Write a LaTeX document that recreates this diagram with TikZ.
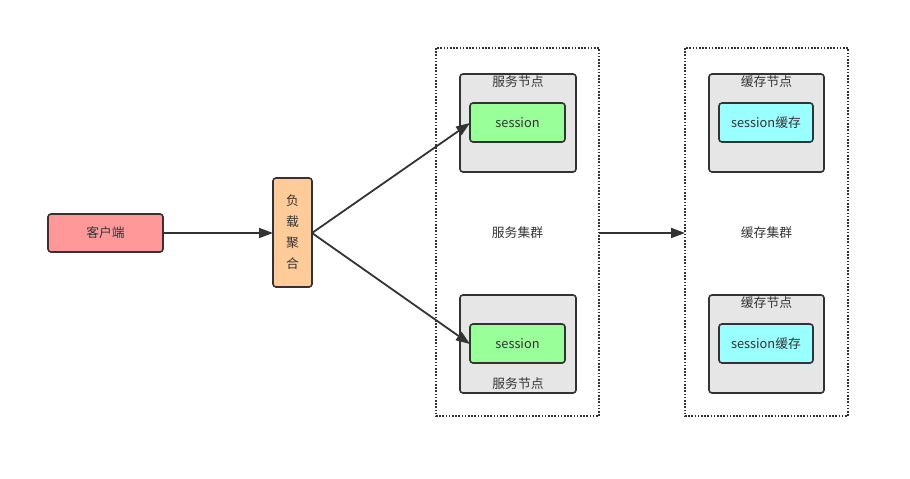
\documentclass[tikz,border=0pt]{standalone}
\usepackage{fontspec}
\setmainfont{Noto Sans CJK SC}
\usetikzlibrary{arrows.meta}
\definecolor{ln}{HTML}{333333}
\definecolor{clientc}{HTML}{FF9999}
\definecolor{lbc}{HTML}{FFCC99}
\definecolor{nodec}{HTML}{E6E6E6}
\definecolor{sessc}{HTML}{99FF99}
\definecolor{cachec}{HTML}{99FFFF}
\begin{document}
\begin{tikzpicture}[x=1pt,y=-1pt,
  box/.style={draw=ln,line width=1.6pt,rounded corners=3pt},
  cluster/.style={draw=ln,line width=1.6pt,dash pattern=on 1.6pt off 1.6pt},
  conn/.style={draw=ln,line width=1.8pt,-{Triangle[length=14pt,width=10pt]}},
  lbl/.style={font=\fontsize{12.8}{15}\selectfont,text=ln,inner sep=0pt}]
\useasboundingbox (0,0) rectangle (910,479);
% clusters
\draw[cluster] (436,48) rectangle (599,416);
\draw[cluster] (685,48) rectangle (848,416);
\node[lbl] (svc) at (517.5,233) {服务集群};
\node[lbl] (cch) at (766.5,233) {缓存集群};
\coordinate (svcR) at (599,233);
\coordinate (cchL) at (685,233);
% client
\filldraw[box,fill=clientc] (48,214) rectangle (163,252);
\node[lbl] (client) at (105.5,233) {客户端};
\coordinate (clientR) at (163,233);
% load balancer
\filldraw[box,fill=lbc] (273,178) rectangle (312,287);
\node[lbl,align=center,font=\fontsize{12.8}{21}\selectfont] (lb) at (292.5,232.5) {负\\载\\聚\\合};
\coordinate (lbL) at (273,233);
\coordinate (lbR) at (312,233);
% service nodes
\filldraw[box,fill=nodec] (460,74) rectangle (576,172);
\node[lbl] (sn1) at (518,82) {服务节点};
\filldraw[box,fill=sessc] (470,103) rectangle (565,142);
\node[lbl] (s1) at (517.5,122.5) {session};
\coordinate (s1L) at (470,123);
\filldraw[box,fill=nodec] (460,295) rectangle (576,393);
\node[lbl] (sn2) at (518,384) {服务节点};
\filldraw[box,fill=sessc] (470,324) rectangle (565,363);
\node[lbl] (s2) at (517.5,343.5) {session};
\coordinate (s2L) at (470,344);
% cache nodes
\filldraw[box,fill=nodec] (709,74) rectangle (824,172);
\node[lbl] (cn1) at (766.5,82) {缓存节点};
\filldraw[box,fill=cachec] (719,103) rectangle (813,142);
\node[lbl] (c1) at (766,122.5) {session缓存};
\filldraw[box,fill=nodec] (709,295) rectangle (824,393);
\node[lbl] (cn2) at (766.5,303) {缓存节点};
\filldraw[box,fill=cachec] (719,324) rectangle (813,363);
\node[lbl] (c2) at (766,343.5) {session缓存};
% connectors
\draw[conn] (clientR) -- (lbL);
\draw[conn] (lbR) -- (s1L);
\draw[conn] (lbR) -- (s2L);
\draw[conn] (svcR) -- (cchL);
\end{tikzpicture}
\end{document}
